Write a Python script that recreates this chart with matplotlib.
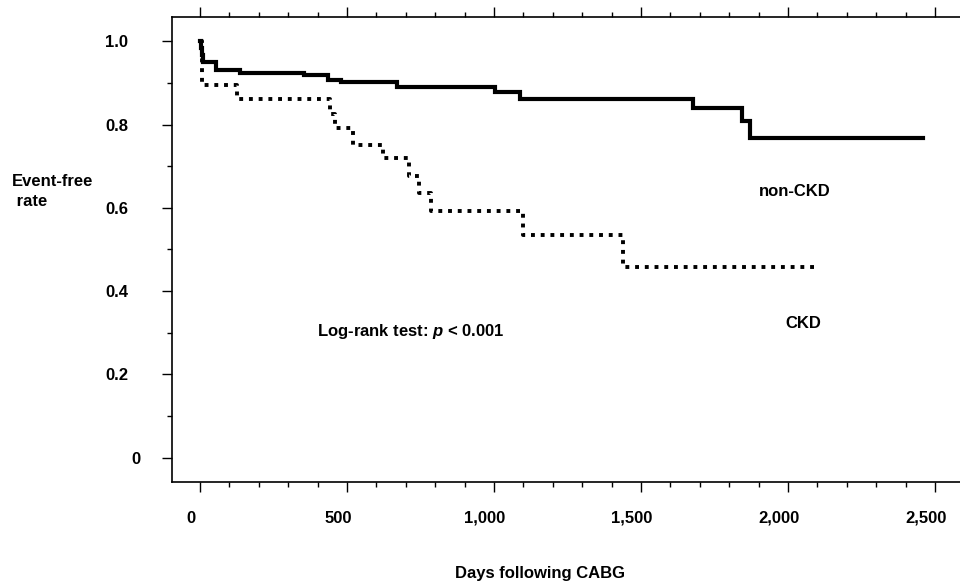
import matplotlib
matplotlib.use('Agg')
import matplotlib.pyplot as plt
from matplotlib.ticker import FixedLocator
from matplotlib.transforms import ScaledTranslation

# Kaplan-Meier steps (days, event-free rate)
noncdk_days = [0, 3, 6, 10, 55, 136, 355, 434, 481, 671, 1003, 1088, 1677, 1845, 1872, 2460]
noncdk_rate = [1.0, 0.985, 0.968, 0.950, 0.932, 0.925, 0.918, 0.907, 0.901, 0.889, 0.879, 0.862, 0.839, 0.809, 0.768, 0.768]

ckd_days = [0, 8, 125, 442, 460, 519, 624, 712, 745, 786, 1100, 1440, 2107]
ckd_rate = [1.0, 0.895, 0.862, 0.826, 0.791, 0.751, 0.719, 0.676, 0.636, 0.593, 0.535, 0.459, 0.459]

x_ticks = [0, 500, 1000, 1500, 2000, 2500]
x_labels = ['0', '500', '1,000', '1,500', '2,000', '2,500']
y_ticks = [0, 0.2, 0.4, 0.6, 0.8, 1.0]
y_labels = ['0', '0.2', '0.4', '0.6', '0.8', '1.0']

plt.rcParams['font.family'] = ['Liberation Sans', 'DejaVu Sans']
plt.rcParams['font.weight'] = 'bold'
plt.rcParams['mathtext.fontset'] = 'custom'
plt.rcParams['mathtext.rm'] = 'Liberation Sans:bold'
plt.rcParams['mathtext.it'] = 'Liberation Sans:italic:bold'

fig = plt.figure(figsize=(9.6, 5.83), dpi=100)
ax = fig.add_axes([172 / 960, 1 - 481.7 / 583, 1 - 172 / 960, (481.7 - 16.7) / 583])

ax.step(noncdk_days, noncdk_rate, where='post', color='black', lw=3.0,
        solid_joinstyle='miter')
ax.step(ckd_days, ckd_rate, where='post', color='black', lw=2.8,
        linestyle=(0, (1.0, 1.5)), dash_capstyle='butt')

ax.set_xlim(-95, 2585)
ax.set_ylim(-0.0576, 1.059)

ax.xaxis.set_major_locator(FixedLocator(x_ticks))
ax.xaxis.set_minor_locator(FixedLocator(range(0, 2600, 100)))
ax.set_xticklabels(x_labels)
ax.yaxis.set_major_locator(FixedLocator(y_ticks))
ax.yaxis.set_minor_locator(FixedLocator([0.1, 0.3, 0.5, 0.7, 0.9]))
ax.set_yticklabels(y_labels)

ax.tick_params(axis='x', which='both', top=True, direction='out', width=1.0)
ax.tick_params(axis='x', which='major', length=7, pad=14, labelsize=12)
ax.tick_params(axis='x', which='minor', length=3.5)
ax.tick_params(axis='y', which='both', right=False, direction='out', width=1.0)
ax.tick_params(axis='y', which='major', length=7.5, pad=24, labelsize=12)
ax.tick_params(axis='y', which='minor', length=3.5)

ax.spines['right'].set_visible(False)
for side in ['left', 'bottom', 'top']:
    ax.spines[side].set_linewidth(1.2)

for lab in ax.get_xticklabels():
    lab.set_transform(lab.get_transform() + ScaledTranslation(-9 / 100, 0, fig.dpi_scale_trans))
zero_lab = ax.get_yticklabels()[0]
zero_lab.set_transform(zero_lab.get_transform() + ScaledTranslation(12 / 100, 0, fig.dpi_scale_trans))

ax.set_xlabel('Days following CABG', fontsize=12, fontweight='bold')
ax.xaxis.set_label_coords((540 - 172) / 788, -0.181)

fig.text(12 / 960, 1 - 191.5 / 583, 'Event-free\n rate', fontsize=12,
         fontweight='bold', ha='left', va='center', linespacing=1.35)

ax.text(398, 0.304, 'Log-rank test: $p$ < 0.001', fontsize=12, fontweight='bold',
        ha='left', va='center')
ax.text(2024, 0.640, 'non-CKD', fontsize=12, fontweight='bold', ha='center', va='center')
ax.text(2051, 0.323, 'CKD', fontsize=12, fontweight='bold', ha='center', va='center')

fig.savefig('out.png', dpi=100)
